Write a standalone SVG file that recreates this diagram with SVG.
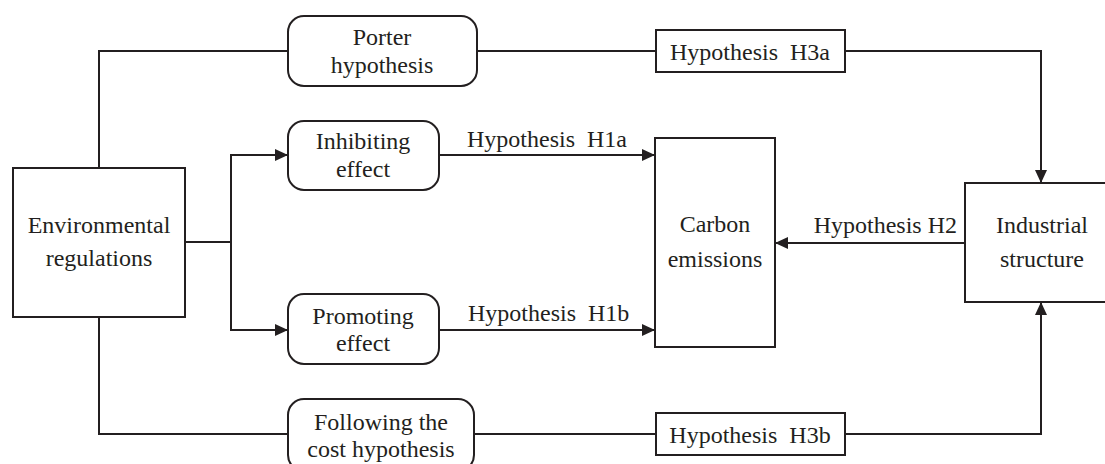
<svg xmlns="http://www.w3.org/2000/svg" width="1105" height="464" viewBox="0 0 1105 464" font-family="Liberation Serif">
<style>
.box{fill:#fff;stroke:#231f20;stroke-width:2}
.ln{fill:none;stroke:#231f20;stroke-width:2}
text{font-family:"Liberation Serif","Times New Roman",serif;font-size:24px;fill:#231f20}
.c{text-anchor:middle}
</style>
<defs>
<marker id="ah" markerUnits="userSpaceOnUse" markerWidth="14" markerHeight="14" viewBox="0 0 14 14" refX="13" refY="7" orient="auto">
<path d="M0,1 L13,7 L0,13 Z" fill="#231f20"/>
</marker>
</defs>
<rect width="1105" height="464" fill="#fff"/>
<g id="connectors">
<polyline class="ln" points="288,51 99,51 99,168"/>
<line class="ln" x1="477" y1="51" x2="656" y2="51"/>
<polyline class="ln" points="845,51 1041,51 1041,183" marker-end="url(#ah)"/>
<line class="ln" x1="185" y1="242" x2="231" y2="242"/>
<line class="ln" x1="231" y1="154" x2="231" y2="331"/>
<line class="ln" x1="230" y1="155" x2="288" y2="155" marker-end="url(#ah)"/>
<line class="ln" x1="230" y1="330" x2="288" y2="330" marker-end="url(#ah)"/>
<line class="ln" x1="439" y1="155" x2="655" y2="155" marker-end="url(#ah)"/>
<line class="ln" x1="439" y1="330" x2="655" y2="330" marker-end="url(#ah)"/>
<line class="ln" x1="965" y1="243" x2="775" y2="243" marker-end="url(#ah)"/>
<polyline class="ln" points="99,317 99,434 288,434"/>
<line class="ln" x1="474" y1="434" x2="656" y2="434"/>
<polyline class="ln" points="845,434 1041,434 1041,302" marker-end="url(#ah)"/>
<text x="467" y="147" xml:space="preserve">Hypothesis  H1a</text>
<text x="468" y="321" xml:space="preserve">Hypothesis  H1b</text>
<text x="957" y="233" text-anchor="end">Hypothesis H2</text>
</g>
<g id="env">
<rect class="box" x="13" y="168" width="172" height="149"/>
<text class="c" x="99" y="233">Environmental</text>
<text class="c" x="99" y="266">regulations</text>
</g>
<g id="porter">
<rect class="box" x="288" y="16" width="189" height="70" rx="16"/>
<text class="c" x="382" y="45">Porter</text>
<text class="c" x="382" y="73">hypothesis</text>
</g>
<g id="inhibiting">
<rect class="box" x="288" y="121" width="151" height="69" rx="16"/>
<text class="c" x="363" y="149">Inhibiting</text>
<text class="c" x="363" y="177">effect</text>
</g>
<g id="promoting">
<rect class="box" x="288" y="294" width="151" height="70" rx="16"/>
<text class="c" x="363" y="324">Promoting</text>
<text class="c" x="363" y="351">effect</text>
</g>
<g id="following">
<rect class="box" x="288" y="399" width="186" height="72" rx="16"/>
<text class="c" x="381" y="430">Following the</text>
<text class="c" x="381" y="457">cost hypothesis</text>
</g>
<g id="h3a">
<rect class="box" x="656" y="30" width="189" height="42"/>
<text class="c" x="750" y="60" xml:space="preserve">Hypothesis  H3a</text>
</g>
<g id="h3b">
<rect class="box" x="656" y="413" width="189" height="42"/>
<text class="c" x="750" y="443" xml:space="preserve">Hypothesis  H3b</text>
</g>
<g id="carbon">
<rect class="box" x="655" y="138" width="120" height="209"/>
<text class="c" x="715" y="232">Carbon</text>
<text class="c" x="715" y="267">emissions</text>
</g>
<g id="industrial">
<rect class="box" x="965" y="183" width="150" height="119"/>
<text class="c" x="1042" y="233">Industrial</text>
<text class="c" x="1042" y="267">structure</text>
</g>
</svg>
